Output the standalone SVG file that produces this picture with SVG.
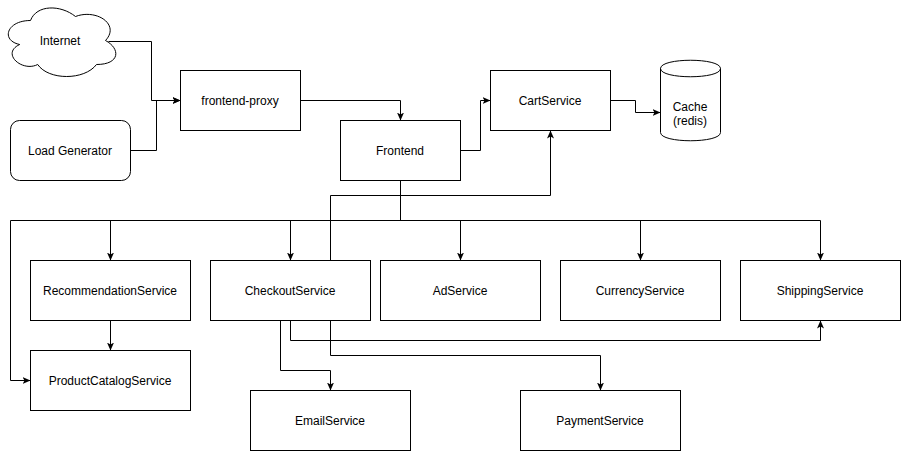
<svg xmlns="http://www.w3.org/2000/svg" width="901" height="451" viewBox="0 0 901 451">
<style>
.n{fill:#ffffff;stroke:#000000;stroke-width:1}
.t{font-family:"Liberation Sans",Arial,sans-serif;font-size:12px;fill:#000000;text-anchor:middle;dominant-baseline:central}
.e{fill:none;stroke:#000000;stroke-width:1;marker-end:url(#arr)}
.p{fill:none;stroke:#000000;stroke-width:1}
</style>
<defs>
<marker id="arr" markerUnits="userSpaceOnUse" viewBox="0 0 8 7" refX="8" refY="3.5" markerWidth="8" markerHeight="7" orient="auto">
<path d="M0,0 L8,3.5 L0,7 L2,3.5 Z" fill="#000000"/>
</marker>
</defs>
<rect x="0" y="0" width="901" height="451" fill="#ffffff"/>
<g transform="translate(0.5,0.5)">
<g id="connectors">
<path class="e" d="M108,41 H151 V100 H180"/>
<path class="e" d="M130,150 H156 V100 H180"/>
<path class="e" d="M300,100 H400 V120"/>
<path class="e" d="M460,150 H480 V100 H490"/>
<path class="e" d="M610,100 H635 V112 H660"/>
<path class="e" d="M330,260 V195 H550 V130"/>
<path class="e" d="M400,180 V220 H110 V260"/>
<path class="e" d="M400,180 V220 H290 V260"/>
<path class="e" d="M400,180 V220 H460 V260"/>
<path class="e" d="M400,180 V220 H640 V260"/>
<path class="e" d="M400,180 V220 H820 V260"/>
<path class="e" d="M400,180 V220 H10 V380 H30"/>
<path class="e" d="M110,320 V350"/>
<path class="e" d="M280,320 V370 H330 V390"/>
<path class="e" d="M290,320 V340 H820 V320"/>
<path class="e" d="M330,320 V355 H600 V390"/>
</g>
<g id="internet">
<path class="n" d="M30,20 C6,20 0,40 19.2,44 C0,52.8 21.6,72 37.2,64 C48,80 84,80 96,64 C120,64 120,48 105,40 C120,24 96,8 75,16 C60,4 36,4 30,20 Z"/>
<text class="t" x="59.5" y="40.5">Internet</text>
</g>
<g id="load-generator">
<rect class="n" x="10" y="120" width="120" height="60" rx="9" ry="9"/>
<text class="t" x="69.5" y="150">Load Generator</text>
</g>
<g id="frontend-proxy">
<rect class="n" x="180" y="70" width="120" height="60"/>
<text class="t" x="239.5" y="100">frontend-proxy</text>
</g>
<g id="frontend">
<rect class="n" x="340" y="120" width="120" height="60"/>
<text class="t" x="399.5" y="150">Frontend</text>
</g>
<g id="cartservice">
<rect class="n" x="490" y="70" width="120" height="60"/>
<text class="t" x="549.5" y="100">CartService</text>
</g>
<g id="cache">
<path class="n" d="M660,68 C660,57 720,57 720,68 L720,132 C720,143 660,143 660,132 Z"/>
<path class="p" d="M660,68 C660,79 720,79 720,68"/>
<text class="t" x="689.5" y="106">Cache</text>
<text class="t" x="689.5" y="120">(redis)</text>
</g>
<g id="recommendationservice">
<rect class="n" x="30" y="260" width="160" height="60"/>
<text class="t" x="109.5" y="290">RecommendationService</text>
</g>
<g id="checkoutservice">
<rect class="n" x="210" y="260" width="160" height="60"/>
<text class="t" x="289.5" y="290">CheckoutService</text>
</g>
<g id="adservice">
<rect class="n" x="380" y="260" width="160" height="60"/>
<text class="t" x="459.5" y="290">AdService</text>
</g>
<g id="currencyservice">
<rect class="n" x="560" y="260" width="160" height="60"/>
<text class="t" x="639.5" y="290">CurrencyService</text>
</g>
<g id="shippingservice">
<rect class="n" x="740" y="260" width="160" height="60"/>
<text class="t" x="819.5" y="290">ShippingService</text>
</g>
<g id="productcatalogservice">
<rect class="n" x="30" y="350" width="160" height="60"/>
<text class="t" x="109.5" y="380">ProductCatalogService</text>
</g>
<g id="emailservice">
<rect class="n" x="250" y="390" width="160" height="60"/>
<text class="t" x="329.5" y="420">EmailService</text>
</g>
<g id="paymentservice">
<rect class="n" x="520" y="390" width="160" height="60"/>
<text class="t" x="599.5" y="420">PaymentService</text>
</g>
</g>
</svg>
